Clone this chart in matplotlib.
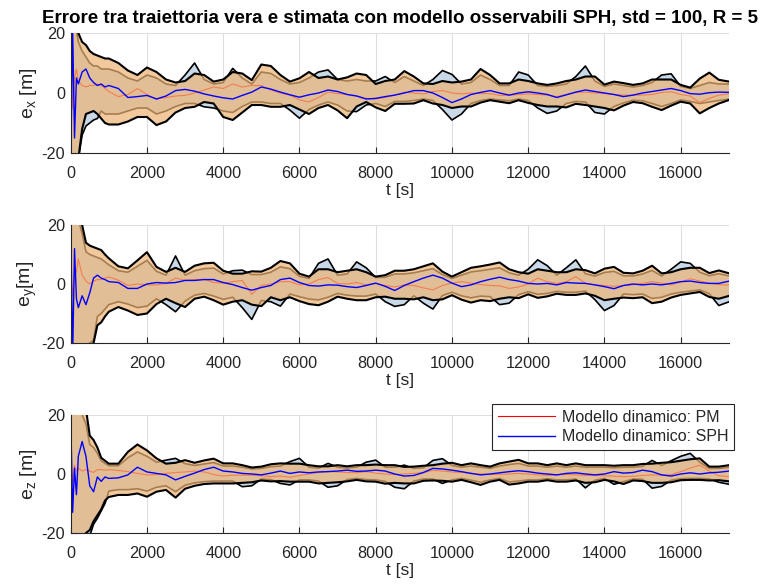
import matplotlib
matplotlib.use('Agg')
import matplotlib.pyplot as plt
from matplotlib.lines import Line2D

plt.rcParams['font.family'] = ['Liberation Sans', 'DejaVu Sans']
plt.rcParams['axes.unicode_minus'] = False
plt.rcParams['mathtext.default'] = 'regular'

# ---------------- data ----------------
t = [0, 50, 100, 150, 200, 300, 400, 500, 600, 700,
     800, 900, 1000, 1250, 1500, 1750, 2000, 2250, 2500, 2750,
     3000, 3250, 3500, 3750, 4000, 4250, 4500, 4750, 5000, 5250,
     5500, 5750, 6000, 6250, 6500, 6750, 7000, 7250, 7500, 7750,
     8000, 8250, 8500, 8750, 9000, 9250, 9500, 9750, 10000, 10250,
     10500, 10750, 11000, 11250, 11500, 11750, 12000, 12250, 12500, 12750,
     13000, 13250, 13500, 13750, 14000, 14250, 14500, 14750, 15000, 15250,
     15500, 15750, 16000, 16250, 16500, 16750, 17000, 17275]

# ---- x component
ex_pm_up = [60, 40, 28, 24, 20, 17, 16, 14, 13, 12.5,
            12, 11.5, 11.5, 10, 7.5, 6, 8.5, 7, 4.5, 3.5,
            4, 6.5, 6, 3.8, 4.5, 7, 6.5, 4.3, 9.5, 9,
            6, 3.8, 4.9, 7, 5, 5.5, 4.5, 5.2, 6.5, 6,
            3, 4, 4.5, 7.3, 5.5, 3.2, 3, 4, 3.5, 3.8,
            4.5, 8, 6, 3.2, 3.2, 4.5, 4, 3.2, 2.7, 3.2,
            4, 4.5, 5.5, 5.5, 2.8, 3.8, 3.3, 2.7, 3.2, 4.5,
            4.5, 4.5, 2.7, 1.8, 4.8, 6.8, 4.4, 3.8]
ex_sph_up = [55, 36, 25, 21, 17, 14, 12, 10, 9, 9,
             8, 8, 8, 7, 5, 4, 6, 5, 3, 2.5,
             6, 10, 4.5, 3, 3.5, 8.2, 5, 3, 7, 6.5,
             4.5, 3, 3.5, 5, 7, 7.7, 4.5, 4, 4.5, 4,
             4, 5.5, 3.5, 5.5, 4, 2.5, 4.5, 7.5, 6.2, 3,
             3.5, 6, 4.5, 2.5, 2.5, 7, 6, 2.5, 2.2, 2.5,
             3, 5.5, 9, 4, 2.2, 3, 2.5, 2, 2.5, 3.5,
             6, 6.4, 2.2, 1.5, 2.5, 3.5, 3, 3]
ex_pm_lo = [-60, -40, -30, -24, -22, -12, -7, -6.5, -6, -7,
            -8.5, -10, -10.5, -10.5, -9.5, -8, -8, -10.7, -9.5, -6.5,
            -5, -4.6, -3, -3.5, -8, -9, -6.5, -4, -4, -4.6,
            -4.6, -4, -5.5, -7, -5, -4, -5.8, -8.4, -4.5, -3,
            -4.8, -6, -3.6, -3.6, -3.5, -2.4, -3.5, -4, -5, -4.5,
            -4.5, -3.2, -2.4, -2.9, -3.4, -2.4, -3.3, -4, -4.5, -4.5,
            -4.8, -3.6, -4, -4.5, -5, -5.8, -4.2, -3, -3.4, -4.6,
            -5.7, -4.2, -2.9, -3.5, -6.8, -5, -3.5, -2.3]
ex_sph_lo = [-55, -38, -28, -23, -22, -14, -11, -10, -9, -8.5,
             -6, -7, -7, -7, -6, -5, -5, -7, -6, -4.5,
             -3.5, -3.5, -4.6, -5, -6, -6.5, -4.5, -3, -3, -3.5,
             -3.5, -5.7, -8.4, -5.5, -4, -3, -4, -6, -6.2, -4,
             -3.5, -4.5, -2.8, -2.8, -2.5, -2, -2.5, -5.5, -9, -7,
             -3.5, -2.5, -2, -2.3, -2.6, -2, -2.5, -5, -6.8, -6,
             -3.5, -2.8, -3, -6.5, -7, -4.5, -3.3, -2.4, -2.6, -3.5,
             -4.5, -3.5, -2.3, -2.8, -3.5, -3, -2.5, -2]
ex_sph_err = [-25, 22, -15, 5, 3, 7, 8, 5, 3.5, 2.5,
              3, 2, 2.5, 1.5, -1.5, -1.2, -0.8, -2, -1, 0.8,
              1.2, 0.6, -0.3, -1, -1.6, -2, -0.8, 0.3, 2, 1.3,
              0.3, -0.6, -1.4, -0.6, 0, 1, 0.5, -0.5, -1, -2,
              -1.8, -1.2, -0.7, 0, 0.8, 0.8, 0, -1.5, -3.2, -2,
              -0.5, 0.2, 0.8, 0, -0.7, 0, 0.4, 0, -0.5, -1.5,
              -0.6, 0.3, 1, 0.5, 0, -0.5, -1.2, -0.7, 0, 0.5,
              1, 1.5, 0.8, -0.2, -0.4, 0.1, 0.3, 0.2]
ex_pm_err = [10, -5, 5, 8, 4, 2.5, 2, 2.5, 2.5, 3,
             2.5, 1.5, 0.5, -1.2, -0.5, 1.5, -0.5, -2, -1.5, -1,
             -0.8, 0, 1, 2, 1.5, 3, 2, 2.5, 2.5, 1,
             0, -0.7, -2.3, -3, -1.5, 0.3, -0.2, -0.5, -1, -1.8,
             -2, -1.5, -0.7, 0.3, 0, -0.3, 0.5, 0.8, 0, -0.3,
             0, -0.2, -0.2, -0.8, -0.8, -0.5, -0.3, -0.5, -0.7, -1.2,
             -0.5, 0.2, 0.3, 0, -0.2, -0.5, -0.7, -0.7, -0.7, -0.5,
             0.2, 0.4, -0.5, -1, -3.2, -1.8, -0.7, -0.3]

# ---- y component
ey_pm_up = [60, 45, 35, 30, 25, 20, 14, 13, 12.5, 12,
            11.5, 10, 8.7, 6, 5.3, 8, 10.8, 5.8, 4.1, 5.5,
            4.1, 6.2, 7, 7.2, 4.5, 3.5, 3.5, 4.3, 4.2, 5.5,
            7.8, 7, 3.5, 2.5, 5, 5, 4, 4.5, 5, 4,
            2.5, 3, 4.5, 4.5, 5, 6, 7, 4.2, 2.5, 4,
            5.5, 6, 6.6, 7.3, 5, 4, 3.5, 5, 4.5, 4,
            4, 5, 4.7, 3.6, 5.2, 5.8, 3.8, 3.6, 4.5, 6.2,
            3.6, 4, 5, 5.5, 5.5, 3.7, 4.6, 3.6]
ey_sph_up = [55, 40, 32, 27, 22, 17, 11, 10, 9.5, 9,
             8.5, 7.5, 6.5, 4.5, 4, 6, 8, 4.3, 3, 9.5,
             3, 4.5, 5.2, 5.4, 3.4, 4.5, 4.7, 3.2, 3.2, 4,
             5.8, 5.2, 2.6, 1.9, 7, 8.5, 3, 3.4, 7.5, 5.5,
             2.2, 2.3, 3.4, 3.4, 3.8, 4.5, 5.2, 3.2, 1.9, 3,
             4.1, 4.5, 5, 5.5, 3.8, 3, 5, 8.2, 6.2, 3,
             5.5, 8.2, 3.5, 2.7, 3.9, 4.3, 2.8, 2.7, 3.4, 4.6,
             2.7, 5, 7.5, 7, 4, 2.8, 3.5, 2.7]
ey_pm_lo = [-60, -45, -35, -30, -28, -25, -22, -21, -20, -14,
            -13, -11, -9.4, -7.8, -9, -10.5, -10, -6.8, -5, -6.5,
            -7.8, -5, -4.3, -5.5, -7, -6, -5.5, -7, -7.5, -4.5,
            -5.5, -4.5, -5.8, -6.8, -7.2, -6, -4.3, -5, -5.5, -5.5,
            -4.5, -4.3, -5, -5, -5.2, -4.5, -5.5, -5.2, -3.8, -5.3,
            -6.3, -5.5, -5.8, -5, -4.5, -4.8, -3.5, -4.7, -4.2, -3.3,
            -3.7, -3.7, -3.2, -4, -5.5, -5, -4.6, -4.8, -4.5, -6.5,
            -6, -4.6, -3.7, -3.2, -2.7, -4.4, -5, -4]
ey_sph_lo = [-55, -42, -33, -28, -26, -23, -21, -20, -19, -11,
             -10, -8.5, -7, -6, -6.8, -8, -7.5, -5, -7, -9.4,
             -5.8, -3.8, -3.2, -4.1, -5.2, -4.5, -8, -12, -5.6, -6,
             -7.5, -3.4, -4.3, -5.1, -5.4, -4.5, -3.2, -3.8, -4.1, -4.1,
             -3.4, -6, -7.6, -7, -4, -6.5, -8.5, -3.9, -2.8, -4,
             -4.7, -4.1, -4.3, -7, -6.5, -3.6, -2.6, -3.5, -3.2, -2.5,
             -2.8, -2.8, -2.4, -5.3, -9, -7.3, -3.4, -3.6, -3.4, -4.9,
             -4.5, -3.4, -2.8, -2.4, -2, -3.3, -7.3, -6]
ey_sph_err = [20, -25, 12, -5, -8, -4, -7, -3, 2, 3,
              2, 1.5, 0.8, 0.5, -1.5, -1.5, 0, 0.5, 0.3, 0.5,
              1.2, 1.2, 1.5, 1.5, 0.5, -0.2, -1.2, -2.1, -1.2, -0.5,
              1.5, 2, 0.5, -0.5, -0.7, -0.3, -0.4, -0.9, -1.2, -0.5,
              0.3, -0.8, -2.2, -0.5, 0.8, 2, 3, 2, 0.3, -0.9,
              -0.3, 0.8, 1.6, 2.3, 1.5, 1, 0.2, 0, 0.2, -0.3,
              0.5, 0.3, 0.2, -0.3, -0.9, -1.6, -0.5, 0, -0.3, 0,
              -0.3, 0.2, 0.8, 1, 0.5, 0.2, 0.2, 1]
ey_pm_err = [5, -4, 3, 4, 8.5, 3, 1, 0, 1, 1.5,
             1.5, 2, 2.4, 1.3, -0.5, 0, -0.3, -0.3, 0.2, 2,
             1.3, 1.5, 1.6, 0.5, 0.3, 0.8, 1.2, -3.5, -0.5, 0,
             0.8, 0.8, -0.3, 0, 1.5, 2.2, 0.2, 0, 0.5, -0.3,
             0.2, -0.5, -1, -0.3, -0.5, -1.3, -2, -0.5, 0.3, 0.8,
             0.3, -0.2, -0.5, -0.6, -1.5, -1, 0, 2, 0.8, 0.2,
             0.8, 2.5, 0.3, -0.3, -0.5, -0.8, -0.5, -0.3, 0.2, 0.8,
             0.3, -0.3, 0.6, 1.8, 1, 0.3, -0.2, -0.4]

# ---- z component
ez_pm_up = [60, 50, 40, 35, 30, 25, 22, 13, 11.5, 9,
            5.5, 4.5, 3.5, 3.5, 7.5, 10, 8, 5.3, 3.5, 3.8,
            4.7, 3.8, 4.6, 5.2, 3.6, 3.6, 3, 2.2, 2.5, 3.3,
            3.6, 3.5, 3.5, 3, 2.6, 2.6, 3, 2.6, 3, 3,
            3.2, 3, 3, 2.4, 2.5, 2.8, 3, 3.5, 3.8, 3,
            3.6, 3, 2.5, 3.6, 4.2, 4.8, 3.6, 3.6, 3, 3.6,
            3, 3.6, 3, 3, 3, 2.8, 3, 3, 3.4, 3.5,
            3.8, 4, 4.5, 5, 5.3, 2.5, 2.5, 3]
ez_sph_up = [58, 45, 36, 30, 26, 20, 17, 10, 9, 7,
             4.5, 3.6, 2.8, 2.8, 5.5, 7.5, 6, 4, 4.7, 5.3,
             3.5, 2.9, 3.4, 3.9, 2.7, 2.7, 2.3, 1.7, 1.9, 2.5,
             2.7, 4.2, 5.3, 2.3, 2, 3.6, 2.3, 2, 2.3, 4,
             4.7, 2.3, 2.3, 3, 1.9, 2.1, 4.6, 5.2, 2.9, 2.3,
             2.7, 2.3, 1.9, 2.7, 3.2, 3.6, 2.7, 2.7, 2.3, 2.7,
             2.3, 2.7, 2.3, 2.3, 2.3, 2.1, 2.3, 2.3, 2.6, 4.6,
             2.9, 4.5, 6, 7, 4, 1.9, 1.9, 2.3]
ez_pm_lo = [-60, -50, -38, -32, -27, -22, -20, -19, -16, -14,
            -12, -9, -7.8, -7.1, -7.1, -6.6, -7.7, -6, -5.4, -8,
            -5, -4, -3.4, -3.2, -3.2, -3.2, -3, -2.8, -2.2, -2.5,
            -2.4, -2.6, -2.6, -2.6, -3.2, -3, -2.8, -2.5, -2, -2.5,
            -2.6, -3.3, -3, -3.2, -3.2, -2.3, -2.2, -2.3, -2.6, -2,
            -2.8, -3.7, -2.6, -2, -3.6, -3.2, -2.6, -2.6, -2.1, -2.6,
            -2.6, -2.2, -3, -2.8, -2, -2.5, -3.4, -2.2, -2.4, -3,
            -3, -2.8, -2.1, -2, -2, -2.2, -2.1, -2.5]
ez_sph_lo = [-60, -50, -40, -35, -30, -27, -24, -21, -17, -15,
             -12.5, -10, -5.8, -5.3, -5.3, -5, -5.8, -4.5, -4, -6,
             -3.8, -3, -2.6, -2.4, -2.4, -2.4, -4.3, -4, -1.7, -1.9,
             -3.2, -3.7, -2, -2, -2.4, -4.5, -4, -1.9, -1.5, -1.9,
             -2, -2.5, -4.5, -5, -2.4, -1.7, -1.7, -3.2, -2, -1.5,
             -2.1, -2.8, -2, -1.5, -2.7, -2.4, -2, -2, -1.6, -2,
             -2, -1.7, -4.7, -2.1, -1.5, -3.5, -2.6, -1.7, -1.8, -4.8,
             -4.2, -2.1, -1.6, -1.5, -1.5, -1.7, -2.8, -3.5]
ez_sph_err = [20, -13, 2, -7, 6, 11, 6, -4, -6, -1,
              -2.5, -1, -1.5, -1.3, -0.3, 2.3, 0.7, 0.2, -0.3, -2,
              -0.8, 0.3, 1.5, 2.3, 1, 0.7, 0.2, 0, -0.3, 0.3,
              1, 0.2, 0.7, 0.4, 0.7, 0.8, 1, 1.3, 0.9, 1,
              1.3, 1, 0, -0.7, -0.5, 0.5, 1.9, 1.7, 1.3, 0.8,
              0.2, -0.3, 0, 0.4, 0.8, 1.1, 0.8, 0.3, 0, -0.3,
              0.2, 0.4, 0, -0.3, 0, 0.8, 0.3, 0.5, 1.3, 0.8,
              -0.3, -0.7, 0, 0.4, 0, 0.4, 0.6, 1]
ez_pm_err = [5, -3, 3, 1, 2, 1, 1.5, 1, 0.5, 1.5,
             1.5, 1.3, 1.5, 1.2, 0.8, 0.2, -0.3, -0.2, 0.2, 0.5,
             0.7, 1, 0.7, -0.2, -0.7, -0.4, -0.4, -0.4, -0.6, -0.9,
             -0.7, -1.1, -0.5, 0, 0.5, 0.9, 0.7, 0.5, 0.4, 0.8,
             0.3, 0, -0.2, 0, 0.2, 0.5, 1.2, 1, 0.7, 0.5,
             0.3, 0, -0.2, -0.1, 0, 0.2, 0, -0.3, -0.5, -0.3,
             -0.2, -0.3, -0.5, -0.5, -0.6, -0.7, -0.9, -0.8, -0.5, -0.3,
             -0.4, -0.2, 0.8, 2, 3, 1, -0.6, -0.9]

x_ticks = [0, 2000, 4000, 6000, 8000, 10000, 12000, 14000, 16000]
y_ticks = [-20, 0, 20]
y_labels = ['e$_x$ [m]', 'e$_y$[m]', 'e$_z$ [m]']
legend_labels = ['Modello dinamico: PM', 'Modello dinamico: SPH']
title = 'Errore tra traiettoria vera e stimata con modello osservabili SPH, std = 100, R = 5'

panels = [
    (ex_pm_up, ex_pm_lo, ex_sph_up, ex_sph_lo, ex_pm_err, ex_sph_err),
    (ey_pm_up, ey_pm_lo, ey_sph_up, ey_sph_lo, ey_pm_err, ey_sph_err),
    (ez_pm_up, ez_pm_lo, ez_sph_up, ez_sph_lo, ez_pm_err, ez_sph_err),
]

# ---------------- styling ----------------
W, H = 763, 584
fig = plt.figure(figsize=(W / 100, H / 100), dpi=100)

def frac_rect(x0, y_top, x1, y_bot):
    return [x0 / W, 1 - y_bot / H, (x1 - x0) / W, (y_bot - y_top) / H]

rects = [frac_rect(70.7, 33, 729.3, 153),
         frac_rect(70.7, 225, 729.3, 343),
         frac_rect(70.7, 415, 729.3, 533)]

BLUE_FILL = (0.79, 0.85, 0.91)
ORANGE = (0.93, 0.70, 0.45)
TXT = (0.15, 0.15, 0.15)

axes = []
for i, (pm_up, pm_lo, sph_up, sph_lo, pm_err, sph_err) in enumerate(panels):
    ax = fig.add_axes(rects[i])
    axes.append(ax)
    ax.fill_between(t, sph_lo, sph_up, facecolor=BLUE_FILL, edgecolor='none', zorder=2)
    ax.plot(t, sph_up, color='k', lw=1.2, zorder=2.1)
    ax.plot(t, sph_lo, color='k', lw=1.2, zorder=2.1)
    ax.plot(t, pm_err, color=(1, 0, 0), lw=0.8, zorder=2.2)
    ax.fill_between(t, pm_lo, pm_up, facecolor=ORANGE, alpha=0.7, edgecolor='none', zorder=2.3)
    ax.plot(t, pm_up, color='k', lw=1.5, zorder=2.4)
    ax.plot(t, pm_lo, color='k', lw=1.5, zorder=2.4)
    ax.plot(t, sph_err, color=(0, 0, 1), lw=1.0, zorder=2.5)

    ax.set_xlim(0, 17275)
    ax.set_ylim(-20, 20)
    ax.set_xticks(x_ticks)
    ax.set_yticks(y_ticks)
    ax.set_axisbelow(True)
    ax.grid(True, color=(0.87, 0.87, 0.87), lw=0.8)
    for s in ['top', 'right']:
        ax.spines[s].set_visible(False)
    for s in ['bottom', 'left']:
        ax.spines[s].set_color(TXT)
        ax.spines[s].set_linewidth(0.8)
        ax.spines[s].set_zorder(3)
    ax.tick_params(direction='in', length=4, width=0.8, color=TXT,
                   labelcolor=TXT, labelsize=11.7)
    ax.tick_params(axis='x', pad=9)
    ax.tick_params(axis='y', pad=4)
    ax.set_xlabel('t [s]', fontsize=12.5, color=TXT, labelpad=2)
    ax.set_ylabel(y_labels[i], fontsize=14, color=TXT, labelpad=2)

axes[0].set_title(title, fontsize=13.5, fontweight='bold', color='k', pad=7)

handles = [Line2D([], [], color=(1, 0, 0), lw=0.8),
           Line2D([], [], color=(0, 0, 1), lw=1.0)]
leg = axes[2].legend(handles, legend_labels, loc='upper right',
                     bbox_to_anchor=(1.007, 1.093), fontsize=11.5,
                     frameon=True, fancybox=False, framealpha=1,
                     edgecolor=TXT, handlelength=3.6, handletextpad=0.4,
                     borderpad=0.35, labelspacing=0.3, borderaxespad=0)
leg.get_frame().set_linewidth(0.8)
leg.set_zorder(5)
for txt in leg.get_texts():
    txt.set_color(TXT)

fig.savefig('out.png', dpi=100)
